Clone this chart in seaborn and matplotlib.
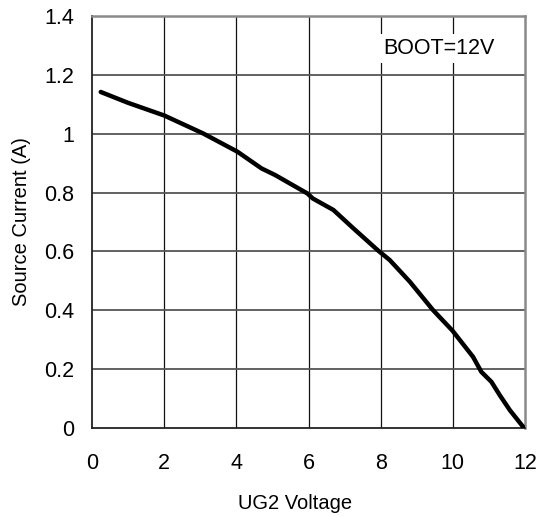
import matplotlib
matplotlib.use("Agg")
import matplotlib.pyplot as plt
import seaborn as sns
import pandas as pd

# Source current versus UG2 voltage, BOOT = 12 V
ug2_voltage = [0.24, 1.0, 2.0, 3.08, 4.03, 4.70, 5.07, 5.97, 6.12, 6.69, 7.24,
               7.93, 8.25, 8.81, 9.45, 9.99, 10.56, 10.79, 11.07, 11.30, 11.58,
               11.95, 12.0]
source_current = [1.142, 1.105, 1.062, 1.001, 0.939, 0.882, 0.860, 0.797, 0.780,
                  0.741, 0.679, 0.603, 0.571, 0.497, 0.401, 0.331, 0.242, 0.191,
                  0.157, 0.112, 0.061, 0.004, 0.0]
x_ticks = [0, 2, 4, 6, 8, 10, 12]
y_ticks = [0, 0.2, 0.4, 0.6, 0.8, 1.0, 1.2, 1.4]
y_tick_labels = ["0", "0.2", "0.4", "0.6", "0.8", "1", "1.2", "1.4"]

sns.set_style("white")
plt.rcParams["font.family"] = ["Liberation Sans", "DejaVu Sans"]
plt.rcParams["text.color"] = "black"
plt.rcParams["axes.labelcolor"] = "black"

df = pd.DataFrame({"UG2 Voltage": ug2_voltage, "Source Current (A)": source_current})

fig, ax = plt.subplots(figsize=(5.48, 5.17), dpi=100)
fig.subplots_adjust(left=0.168, right=0.958, top=0.969, bottom=0.172)

sns.lineplot(data=df, x="UG2 Voltage", y="Source Current (A)", ax=ax,
             color="black", linewidth=3.2, zorder=3)

ax.set_xlim(0, 12)
ax.set_ylim(0, 1.4)
ax.set_xticks(x_ticks)
ax.set_yticks(y_ticks)
ax.set_yticklabels(y_tick_labels)

# grid: thin black verticals, grey horizontals
for xv in x_ticks[1:-1]:
    ax.axvline(xv, color="#111111", linewidth=0.9, zorder=1)
for yv in y_ticks[1:-1]:
    ax.axhline(yv, color="#555555", linewidth=1.3, zorder=1)

ax.tick_params(axis="x", labelsize=15.5, pad=18, length=0, colors="black")
ax.tick_params(axis="y", labelsize=15.5, pad=13, length=4, direction="in",
               colors="black")

ax.set_xlabel("UG2 Voltage", fontsize=14.5, color="black")
ax.set_ylabel("Source Current (A)", fontsize=14.5, color="black")
ax.xaxis.set_label_coords(0.47, -0.159)
ax.yaxis.set_label_coords(-0.14, 0.5)

for side in ["left", "bottom"]:
    ax.spines[side].set_color("#222222")
    ax.spines[side].set_linewidth(1.3)
for side in ["top", "right"]:
    ax.spines[side].set_color("#8a8a8a")
    ax.spines[side].set_linewidth(1.8)

ax.text(8.06, 1.291, "BOOT=12V", fontsize=15.5, va="center", ha="left",
        color="black",
        bbox=dict(facecolor="white", edgecolor="none", pad=3.0), zorder=4)

fig.savefig("out.png", dpi=100)
